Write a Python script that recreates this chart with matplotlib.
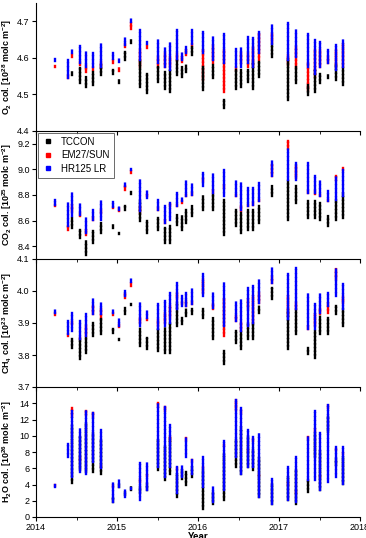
import matplotlib
matplotlib.use("Agg")
import matplotlib.pyplot as plt
from matplotlib.lines import Line2D
from matplotlib.ticker import MultipleLocator
import numpy as np

plt.rcParams['font.family'] = ['Liberation Sans', 'DejaVu Sans']
plt.rcParams['mathtext.fontset'] = 'custom'
plt.rcParams['mathtext.rm'] = 'Liberation Sans:bold'
plt.rcParams['mathtext.default'] = 'rm'

# measurement days (decimal year)
days = [2014.23, 2014.39, 2014.44, 2014.54, 2014.62, 2014.70, 2014.80, 2014.95, 2015.02,
        2015.10, 2015.17, 2015.28, 2015.37, 2015.51, 2015.59, 2015.65, 2015.74, 2015.80,
        2015.85, 2015.93, 2016.06, 2016.19, 2016.32, 2016.47, 2016.53, 2016.62, 2016.68,
        2016.75, 2016.91, 2017.11, 2017.21, 2017.36, 2017.44, 2017.51, 2017.60, 2017.70,
        2017.79]

series_names = ["TCCON", "EM27/SUN", "HR125 LR"]
series_colors = ["black", "red", "blue"]

# daily (min, max) ranges per instrument
o2_tccon = [None, None, (4.553, 4.562), (4.530, 4.571), (4.521, 4.548), (4.525, 4.562), (4.553, 4.580),
            (4.557, 4.566), (4.532, 4.539), (4.594, 4.616), (4.641, 4.648), (4.521, 4.594), (4.503, 4.557),
            (4.535, 4.575), (4.516, 4.562), (4.507, 4.566), (4.553, 4.594), (4.548, 4.575), (4.562, 4.580),
            (4.607, 4.630), (4.512, 4.575), (4.544, 4.580), (4.462, 4.485), (4.516, 4.566), (4.521, 4.566),
            (4.535, 4.566), (4.516, 4.589), (4.548, 4.589), (4.603, 4.639), (4.485, 4.598), (4.530, 4.575),
            (4.498, 4.525), (4.507, 4.566), (4.530, 4.557), (4.544, 4.553), (4.539, 4.580), (4.525, 4.575)]
o2_em27 = [(4.574, 4.578), (4.544, 4.550), (4.603, 4.609), (4.580, 4.589), (4.562, 4.580), (4.566, 4.575),
           (4.571, 4.589), (4.585, 4.594), (4.565, 4.571), (4.630, 4.639), (4.680, 4.694), (4.575, 4.621),
           (4.628, 4.632), (4.575, 4.603), (4.575, 4.612), (4.575, 4.603), (4.594, 4.612), (4.589, 4.603),
           (4.607, 4.621), (4.632, 4.639), (4.539, 4.621), (4.585, 4.635), (4.507, 4.621), (4.566, 4.575),
           (4.585, 4.612), (4.575, 4.612), (4.575, 4.630), (4.594, 4.666), (4.644, 4.666), (4.580, 4.607),
           (4.575, 4.630), (4.512, 4.585), (4.548, 4.621), (4.575, 4.621), (4.585, 4.603), (4.575, 4.621),
           (4.575, 4.639)]
o2_hr125 = [(4.591, 4.598), (4.544, 4.594), (4.612, 4.625), (4.585, 4.633), (4.575, 4.616), (4.575, 4.612),
            (4.575, 4.639), (4.598, 4.612), (4.589, 4.598), (4.635, 4.653), (4.698, 4.705), (4.594, 4.675),
            (4.639, 4.644), (4.585, 4.648), (4.575, 4.630), (4.566, 4.644), (4.598, 4.675), (4.594, 4.616),
            (4.612, 4.630), (4.639, 4.675), (4.612, 4.671), (4.594, 4.657), (4.585, 4.666), (4.575, 4.625),
            (4.575, 4.630), (4.585, 4.657), (4.575, 4.653), (4.612, 4.671), (4.639, 4.689), (4.594, 4.694),
            (4.603, 4.675), (4.575, 4.666), (4.557, 4.648), (4.575, 4.644), (4.585, 4.621), (4.566, 4.635),
            (4.575, 4.648)]

co2_tccon = [None, None, (8.541, 8.620), (8.463, 8.528), (8.332, 8.437), (8.424, 8.515), (8.502, 8.580),
             (8.541, 8.567), (8.497, 8.507), (8.685, 8.711), (8.810, 8.821), (8.593, 8.750), (8.502, 8.593),
             (8.528, 8.620), (8.424, 8.541), (8.424, 8.554), (8.567, 8.646), (8.528, 8.633), (8.580, 8.685),
             (8.633, 8.711), (8.685, 8.790), (8.685, 8.803), (8.489, 8.763), (8.554, 8.685), (8.502, 8.659),
             (8.528, 8.685), (8.528, 8.685), (8.580, 8.711), (8.790, 8.868), (8.607, 8.920), (8.737, 8.868),
             (8.620, 8.750), (8.620, 8.750), (8.607, 8.737), (8.554, 8.633), (8.607, 8.763), (8.620, 8.816)]
co2_em27 = [(8.711, 8.724), (8.528, 8.554), (8.672, 8.724), (8.638, 8.659), (8.489, 8.528), (8.607, 8.627),
            (8.659, 8.685), (8.695, 8.706), (8.672, 8.698), (8.842, 8.868), (8.973, 8.986), (8.659, 8.711),
            (8.790, 8.803), (8.685, 8.698), (8.580, 8.607), (8.711, 8.732), (8.711, 8.724), (8.740, 8.752),
            (8.790, 8.803), (8.803, 8.816), (8.907, 8.933), (8.816, 8.842), (8.855, 8.881), (8.790, 8.803),
            (8.672, 8.711), (8.711, 8.724), (8.724, 8.737), (8.750, 8.763), (8.946, 9.038), (9.156, 9.221),
            (8.933, 9.025), (8.816, 8.829), (8.810, 8.829), (8.790, 8.803), (8.750, 8.763), (8.920, 8.946),
            (8.993, 9.012)]
co2_hr125 = [(8.724, 8.758), (8.554, 8.737), (8.633, 8.816), (8.646, 8.737), (8.502, 8.620), (8.607, 8.685),
             (8.607, 8.763), (8.706, 8.742), (8.685, 8.716), (8.868, 8.894), (8.993, 9.004), (8.672, 8.920),
             (8.776, 8.829), (8.685, 8.763), (8.580, 8.711), (8.607, 8.737), (8.711, 8.816), (8.750, 8.776),
             (8.790, 8.920), (8.803, 8.894), (8.868, 8.973), (8.816, 8.973), (8.790, 8.999), (8.790, 8.920),
             (8.685, 8.894), (8.711, 8.855), (8.724, 8.855), (8.750, 8.894), (8.946, 9.064), (8.920, 9.156),
             (8.920, 9.051), (8.816, 9.051), (8.816, 8.946), (8.790, 8.920), (8.750, 8.829), (8.763, 8.946),
             (8.790, 8.999)]

ch4_tccon = [None, None, (3.823, 3.849), (3.786, 3.849), (3.807, 3.854), (3.859, 3.901), (3.865, 3.911),
             (3.870, 3.880), (3.847, 3.851), (3.927, 3.948), (3.956, 3.960), (3.828, 3.885), (3.818, 3.854),
             (3.812, 3.880), (3.807, 3.885), (3.807, 3.901), (3.891, 3.964), (3.896, 3.917), (3.922, 3.943),
             (3.927, 3.943), (3.917, 3.943), (3.849, 3.917), (3.771, 3.812), (3.839, 3.875), (3.818, 3.875),
             (3.849, 3.896), (3.849, 3.901), (3.932, 3.953), (3.974, 4.010), (3.818, 3.943), (3.865, 3.943),
             (3.802, 3.823), (3.792, 3.875), (3.865, 3.922), (3.865, 3.917), (3.927, 3.953), (3.891, 3.943)]
ch4_em27 = [(3.924, 3.930), (3.859, 3.865), (3.896, 3.903), (3.849, 3.854), (3.859, 3.891), (3.927, 3.953),
            (3.917, 3.943), (3.924, 3.930), (3.886, 3.893), (3.979, 3.990), (4.016, 4.026), (3.901, 3.917),
            (3.908, 3.914), (3.891, 3.911), (3.901, 3.932), (3.917, 3.953), (3.974, 3.995), (3.958, 3.966),
            (3.953, 3.969), (3.958, 3.966), (3.995, 4.036), (3.943, 3.958), (3.859, 3.974), (3.906, 3.922),
            (3.875, 3.901), (3.943, 3.974), (3.901, 3.984), (3.964, 3.995), (4.026, 4.047), (3.922, 3.984),
            (3.943, 3.964), (3.880, 3.891), (3.891, 3.927), (3.927, 3.943), (3.932, 3.964), (4.036, 4.068),
            (3.964, 3.984)]
ch4_hr125 = [(3.932, 3.945), (3.865, 3.906), (3.875, 3.932), (3.849, 3.906), (3.859, 3.927), (3.927, 3.979),
             (3.927, 3.964), (3.932, 3.943), (3.891, 3.914), (3.984, 4.000), (4.028, 4.036), (3.891, 3.964),
             (3.917, 3.938), (3.880, 3.958), (3.891, 3.969), (3.901, 3.995), (3.943, 4.026), (3.953, 3.984),
             (3.953, 3.995), (3.958, 4.005), (3.984, 4.052), (3.948, 3.995), (3.891, 4.026), (3.906, 3.969),
             (3.875, 3.974), (3.891, 4.010), (3.901, 4.016), (3.964, 4.036), (4.026, 4.073), (3.911, 4.052),
             (3.943, 4.073), (3.880, 3.990), (3.880, 3.958), (3.932, 3.995), (3.953, 3.995), (3.984, 4.068),
             (3.943, 4.021)]

h2o_tccon = [None, None, (4.2, 11.3), (5.8, 9.9), (5.6, 11.5), (5.6, 10.3), (5.3, 9.5),
             (1.9, 2.3), (3.7, 3.9), (2.7, 3.1), (3.3, 3.7), (2.9, 3.7), (3.3, 4.1),
             (5.8, 9.5), (4.5, 8.6), (5.3, 9.7), (2.5, 5.3), (4.7, 5.8), (3.9, 5.6),
             (4.9, 6.2), (1.0, 5.8), (1.6, 2.9), (2.1, 7.8), (6.2, 9.5), (5.3, 11.1),
             (6.2, 9.9), (5.8, 8.2), (2.5, 7.4), (1.6, 4.1), (2.1, 4.9), (1.6, 5.8),
             (3.1, 4.5), (7.4, 10.3), (3.3, 8.2), (10.5, 12.3), (6.4, 7.2), (4.1, 7.4)]
h2o_em27 = [(3.8, 3.9), None, (12.3, 13.4), (7.0, 7.4), (12.6, 13.0), (12.3, 12.8), (6.1, 6.3),
            (3.7, 3.9), None, None, None, (4.3, 4.7), (5.0, 5.2), (13.6, 14.0), (13.1, 13.6),
            (9.4, 9.8), (5.8, 6.0), None, (9.5, 9.7), (6.9, 7.0), (6.0, 6.2), None, (8.7, 8.9),
            (13.2, 14.4), (12.8, 13.2), (8.0, 8.2), (9.4, 9.6), (5.0, 5.2), None, (4.0, 4.2), (3.0, 3.2),
            (9.6, 9.8), (10.6, 10.8), (4.9, 5.0), (13.4, 13.8), (8.3, 8.4), (7.8, 7.9)]
h2o_hr125 = [(3.7, 4.0), (7.4, 9.0), (4.9, 13.0), (5.6, 10.9), (5.3, 13.0), (6.8, 12.8), (6.0, 10.7),
             (1.9, 4.3), (3.7, 4.5), (2.5, 3.3), (3.4, 3.6), (2.1, 6.6), (3.3, 6.6), (6.2, 14.0),
             (4.9, 13.6), (6.2, 11.3), (2.9, 6.2), (4.9, 6.4), (7.4, 9.9), (5.3, 7.0), (3.7, 7.4),
             (1.9, 3.7), (3.3, 9.3), (7.4, 14.4), (5.3, 13.4), (6.2, 10.7), (6.2, 9.9), (2.5, 10.3),
             (1.6, 4.7), (2.1, 6.2), (1.9, 7.4), (4.5, 9.9), (4.5, 13.0), (3.3, 10.3), (4.3, 13.8),
             (4.9, 8.6), (4.1, 8.6)]

panels = [
    ("O$_2$ col. [10$^{28}$ molc m$^{-2}$]", [o2_tccon, o2_em27, o2_hr125], (4.4, 4.75), [4.4, 4.5, 4.6, 4.7], "{:.1f}"),
    ("CO$_2$ col. [10$^{25}$ molc m$^{-2}$]", [co2_tccon, co2_em27, co2_hr125], (8.3, 9.3), [8.4, 8.6, 8.8, 9.0, 9.2], "{:.1f}"),
    ("CH$_4$ col. [10$^{23}$ molc m$^{-2}$]", [ch4_tccon, ch4_em27, ch4_hr125], (3.7, 4.1), [3.7, 3.8, 3.9, 4.0, 4.1], "{:.1f}"),
    ("H$_2$O col. [10$^{26}$ molc m$^{-2}$]", [h2o_tccon, h2o_em27, h2o_hr125], (0, 16), [0, 2, 4, 6, 8, 10, 12, 14], "{:d}"),
]

W, H = 366, 538
fig = plt.figure(figsize=(W / 100, H / 100), dpi=100)
# pixel extents (top, bottom) of each panel
extents = [(3, 131), (131, 259), (259, 387), (387, 517)]
x0, x1 = 36, 360
axes = []
for (top, bot) in extents:
    ax = fig.add_axes([x0 / W, 1 - bot / H, (x1 - x0) / W, (bot - top) / H])
    axes.append(ax)

styles = {"black": (0, (1.1, 0.45)), "red": (0, (1.1, 0.45)), "blue": (0, (1.0, 0.7))}
draw_z = {"red": 2, "black": 3, "blue": 4}
for ax, (label, data, ylim, yticks, fmt) in zip(axes, panels):
    for ser, col in zip(data, series_colors):
        xs, lo, hi = [], [], []
        for d, r in zip(days, ser):
            if r is None:
                continue
            xs.append(d); lo.append(r[0]); hi.append(r[1])
        lc = ax.vlines(xs, lo, hi, colors=col, linewidth=1.7, linestyles=[styles[col]],
                       zorder=draw_z[col])
        lc.set_capstyle('projecting')
    ax.set_xlim(2014, 2018)
    ax.set_ylim(*ylim)
    ax.set_yticks(yticks)
    ax.set_yticklabels([fmt.format(t) for t in yticks])
    ax.xaxis.set_major_locator(MultipleLocator(1))
    ax.xaxis.set_minor_locator(MultipleLocator(0.5))
    for s in ['top', 'right']:
        ax.spines[s].set_visible(False)
    for s in ['left', 'bottom']:
        ax.spines[s].set_linewidth(0.8)
    ax.tick_params(axis='both', which='major', direction='out', length=3, width=0.8, labelsize=6.5, pad=1.5)
    ax.tick_params(axis='x', which='minor', direction='out', length=2, width=0.6)
    ax.set_ylabel(label, fontsize=6.4, fontweight='bold')
    ax.yaxis.set_label_coords(-0.068, 0.5)
    ax.patch.set_alpha(0)

for ax in axes[:-1]:
    ax.tick_params(axis='x', labelbottom=False)

axes[-1].set_xticks([2014, 2015, 2016, 2017, 2018])
axes[-1].set_xticklabels(["2014", "2015", "2016", "2017", "2018"])
axes[-1].set_xlabel("Year", fontsize=7, fontweight='bold', labelpad=-0.5)

handles = [Line2D([], [], linestyle='none', marker='s', markersize=3.0, color=c) for c in series_colors]
leg = axes[1].legend(handles, series_names, loc='upper left', bbox_to_anchor=(0.0, 1.0),
                     fontsize=7, frameon=True, fancybox=False, edgecolor='#444444',
                     handlelength=1.2, handletextpad=0.8, borderpad=0.4, labelspacing=0.35,
                     borderaxespad=0.2)
leg.get_frame().set_linewidth(0.7)
leg.set_zorder(10)

fig.savefig("out.png", dpi=100)
